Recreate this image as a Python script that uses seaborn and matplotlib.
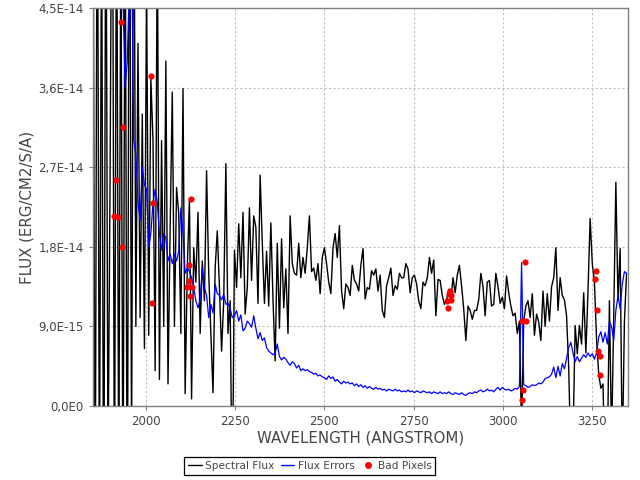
import numpy as np
import pandas as pd
import matplotlib
matplotlib.use("Agg")
import matplotlib.pyplot as plt
import seaborn as sns
from matplotlib.lines import Line2D
from matplotlib.ticker import FuncFormatter, MultipleLocator

# ----------------------------------------
# DATA (flux values in units of 1E-15 erg/cm2/s/A)
# ----------------------------------------
FLUX_UNIT = 1e-15
wave_start = 1852.0   # first sample, Angstrom
wave_step = 6.0       # sampling step, Angstrom

spectral_flux = [
    62, -18, 70, -12, 58, -20, 66, -8, 27, 75,
    -15, 64, -10, 55, -14, 60, -20, 72, -6, 68,
    9, 41, 10, 33, 6.5, 48, 8, 37, 30, 4,
    55, 3, 30, 9, 39, 2.5, 20, 35.5, 9, 24.7,
    21.8, 8.2, 35.9, 1.4, 15.6, 23.4, 0.8, 17.9, 14, 21.9,
    8.2, 16.4, 11.9, 26.6, 15, 8.2, 1.5, 15.6, 19.8, 13.4,
    6.2, 11.9, 27.4, 8.2, 11.9, -12, 17.6, 13.4, 20.6, 14.5,
    21.9, 10.4, 13.4, 22.4, 14.2, 21.5, 20.2, 11.6, 26.1, 18.4,
    11.6, 17.5, 11.3, 20.7, 12, 5.1, 18.4, 8.8, 18.9, 11.1,
    15.5, 8.2, 21.5, 16.1, 15, 14.8, 18.4, 14.5, 16.8, 15,
    17.9, 21.5, 15.2, 15.6, 14.2, 16.1, 12.7, 16.8, 17.9, 16.1,
    14, 12.7, 17.9, 19.5, 16.8, 20.4, 13, 11, 13.8, 13.4,
    12.5, 15.9, 14.2, 13.8, 13, 15.9, 17.8, 12.1, 13.4, 13.2,
    15.3, 14.8, 15.5, 13, 14.8, 10.8, 10, 13.6, 14.5, 15.6,
    12.5, 13.6, 13.2, 15, 14.5, 14.5, 16.1, 15.5, 12.8, 14.5,
    14.8, 13.8, 11.9, 11, 14, 13.6, 14.5, 16.8, 15, 16.5,
    10.2, 14.3, 14.2, 12.5, 11.5, 12, 13.2, 11.9, 14.5, 12.8,
    14.8, 15.9, 13.6, 11, 7.4, 11.3, 10.8, 9.8, 10.8, 10.8,
    12, 15, 13.5, 10.2, 14, 14.2, 11.3, 11.5, 15, 13.5,
    11.6, 12.3, 11, 14.7, 12.8, 11.3, 10.2, 10.5, 8.2, 9.6,
    -3, 9.6, 11.3, 11.9, 10, 12.7, 8, 10.4, 9.5, 7.4,
    13, 9, 12.7, 9.6, 13.5, 14.5, 17.9, 10.8, 14.5, 12.5,
    12, 10.2, 4.3, -6, -4, 9.1, 5.9, 9.1, 7, 12.8,
    6, 13, 21.2, 16.1, 14, 7.5, 3.6, 2, 2.5, -8,
    -6, 11.9, -4, 10, 25.3, 11.9, 17.8, -6, 9.6, 15,
]

flux_errors = [
    88, 80, 92, 76, 84, 70, 78, 66, 72, 60,
    64, 56, 58, 52, 46, 36, 39, 48, 52, 30,
    28.5, 23, 21, 27, 25, 24.5, 18, 19.5, 23, 24.5,
    23, 19.5, 17.6, 19.5, 19, 16.4, 17.2, 16.1, 17.2, 16.4,
    17.5, 22.4, 19.5, 15, 15.6, 15.2, 14.5, 13.4, 11.9, 11.1,
    12, 15.6, 13.4, 12.5, 10, 11.5, 10.5, 13.8, 12.7, 12.5,
    12, 12.6, 11.5, 11.6, 11, 10, 10.2, 10.8, 9.6, 10.3,
    8.5, 8.8, 9.6, 9.3, 8.9, 10.2, 8.8, 7.6, 8.3, 7.4,
    7.7, 6.6, 6.2, 6, 5.8, 6, 7, 5.6, 5.2, 5.5,
    5.3, 4.9, 4.6, 5, 4.8, 4.3, 4.6, 4, 4.2, 4,
    4.1, 3.9, 3.8, 3.6, 3.7, 3.4, 3.5, 3.3, 3.2, 3,
    3.4, 3.1, 3.3, 2.8, 3, 2.7, 2.5, 2.8, 2.6, 2.7,
    2.5, 2.6, 2.3, 2.5, 2.2, 2.4, 2.1, 2.3, 2, 2.2,
    2, 1.9, 2.1, 1.9, 2, 1.8, 1.9, 1.7, 1.9, 1.8,
    1.7, 1.9, 1.7, 1.8, 1.6, 1.7, 1.6, 1.8, 1.6, 1.7,
    1.5, 1.7, 1.6, 1.5, 1.7, 1.6, 1.5, 1.6, 1.4, 1.6,
    1.5, 1.4, 1.6, 1.4, 1.5, 1.4, 1.6, 1.4, 1.3, 1.5,
    1.4, 1.3, 1.5, 1.3, 1.2, 1.4, 1.5, 1.4, 1.6, 1.5,
    1.7, 1.8, 1.6, 1.7, 1.9, 1.7, 1.8, 1.6, 1.9, 2.1,
    1.8, 2.1, 1.9, 1.8, 1.9, 1.7, 1.8, 2, 1.9, 2.2,
    16.2, 2.4, 2.3, 2.1, 2.2, 2.4, 2.3, 2.4, 2.6, 2.5,
    2.7, 3.1, 3.2, 3.3, 3.6, 4.4, 3.2, 4.5, 3.4, 4.8,
    4.2, 5.4, 6.6, 7.2, 6, 5, 5.6, 5, 5.4, 5.8,
    5.5, 6, 5.6, 5.9, 5.3, 6, 7.8, 8.4, 7.2, 8.3,
    7, 9.5, 9, 7.4, 10.8, 12.5, 11, 13.8, 15.2, 15,
]

bad_wave = [1930, 1936, 1916, 1910, 1922, 1933, 2014, 2020, 2017,
            2126, 2120, 2120, 2115, 2129, 2123,
            2848, 2854, 2843, 2854, 2846, 2851,
            3061, 3053, 3064, 3056, 3053,
            3260, 3257, 3263, 3266, 3271, 3271]
bad_flux = [43.4, 31.5, 25.6, 21.5, 21.4, 18.0, 37.3, 22.9, 11.6,
            23.4, 15.9, 14.1, 13.5, 13.4, 12.4,
            12.7, 12.5, 11.9, 12.0, 11.1, 13.0,
            16.3, 9.6, 9.6, 1.8, 0.7,
            15.3, 14.4, 10.9, 6.2, 5.7, 3.5]

# ----------------------------------------
# FRAMES
# ----------------------------------------
n = len(spectral_flux)
wave = wave_start + wave_step * np.arange(n)
spec = pd.DataFrame({
    "Wavelength": wave,
    "Flux": np.array(spectral_flux) * FLUX_UNIT,
    "Error": np.array(flux_errors) * FLUX_UNIT,
})
bad = pd.DataFrame({
    "Wavelength": bad_wave,
    "Flux": np.array(bad_flux) * FLUX_UNIT,
})

# ----------------------------------------
# PLOT
# ----------------------------------------
sns.set_style("white")
plt.rcParams["font.family"] = ["DejaVu Sans"]

fig = plt.figure(figsize=(6.4, 4.8), dpi=100)
ax = fig.add_axes([93 / 640, 1 - 406 / 480, 535 / 640, 398 / 480])

sns.lineplot(data=spec, x="Wavelength", y="Flux", ax=ax, color="black",
             linewidth=1.0, sort=False, estimator=None, legend=False)
sns.lineplot(data=spec, x="Wavelength", y="Error", ax=ax, color="#0000ff",
             linewidth=0.9, sort=False, estimator=None, legend=False)
sns.scatterplot(data=bad, x="Wavelength", y="Flux", ax=ax, color="#ff0000",
                s=20, linewidth=0, zorder=5, legend=False)

ax.set_xlim(1852, 3350)
ax.set_ylim(0, 4.5e-14)
ax.xaxis.set_major_locator(MultipleLocator(250))
ax.set_yticks([0, 9e-15, 1.8e-14, 2.7e-14, 3.6e-14, 4.5e-14])


def sci_comma(v, pos):
    if v == 0:
        return "0,0E0"
    exp = int(np.floor(np.log10(abs(v)) + 1e-9))
    mant = v / 10 ** exp
    return f"{mant:.1f}".replace(".", ",") + f"E{exp}"


ax.yaxis.set_major_formatter(FuncFormatter(sci_comma))

ax.grid(True, color="#c0c0c0", linestyle=(0, (2, 2)), linewidth=0.8)
for side in ax.spines.values():
    side.set_color("#808080")
    side.set_linewidth(1)
ax.tick_params(axis="both", colors="#808080", labelcolor="#444444",
               labelsize=8.5, length=3, width=0.8, direction="out",
               bottom=True, left=True)

ax.set_xlabel("WAVELENGTH (ANGSTROM)", fontsize=10.8, color="#444444", labelpad=2)
ax.set_ylabel("FLUX (ERG/CM2/S/A)", fontsize=10.8, color="#444444", labelpad=3)

handles = [
    Line2D([], [], color="black", linewidth=1),
    Line2D([], [], color="#0000ff", linewidth=1),
    Line2D([], [], color="#ff0000", marker="o", markersize=4, linestyle="none"),
]
labels = ["Spectral Flux", "Flux Errors", "Bad Pixels"]
leg = fig.legend(handles, labels, loc="center", bbox_to_anchor=(0.484, 0.029),
                 ncol=3, frameon=True, fancybox=False, fontsize=7.6,
                 handlelength=1.3, handletextpad=0.3, columnspacing=0.6,
                 borderpad=0.35, edgecolor="black", framealpha=1)
leg.get_frame().set_linewidth(0.9)
for t in leg.get_texts():
    t.set_color("#444444")

fig.savefig("out.png", dpi=100)
